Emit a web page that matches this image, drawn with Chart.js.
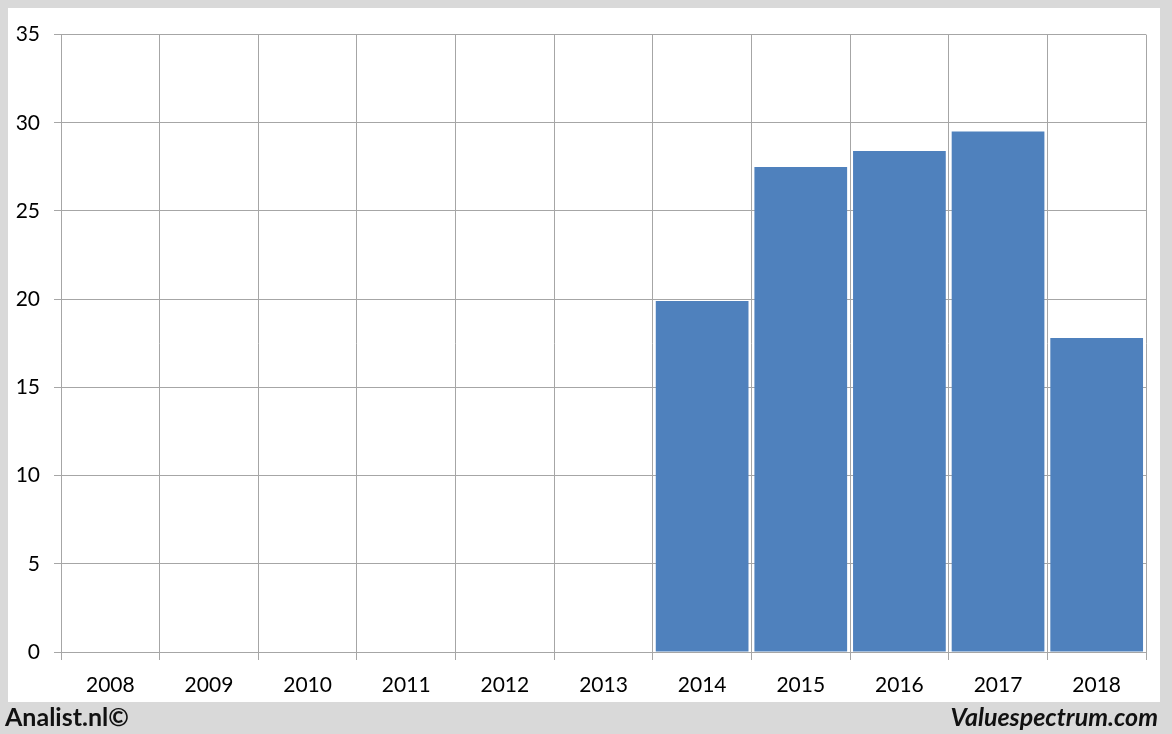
<!DOCTYPE html>
<html>
<head>
<meta charset="utf-8">
<script src="https://cdn.jsdelivr.net/npm/chart.js@4.4.0/dist/chart.umd.min.js"></script>
<style>
    html, body { margin: 0; padding: 0; }
    body { width: 1172px; height: 734px; background: #d9d9d9; position: relative; overflow: hidden; font-family: Lato, "Open Sans", sans-serif; }
    .panel { position: absolute; left: 8px; top: 8px; width: 1152px; height: 694px; background: #fff; }
    .footer-left { position: absolute; left: 5px; top: 701px; font-size: 25px; font-weight: bold; color: #111; }
    .footer-right { position: absolute; right: 14px; top: 701px; font-size: 25px; font-weight: bold; font-style: italic; color: #111; }
</style>
</head>
<body>
<div class="panel"><canvas id="chart" width="1152" height="694"></canvas></div>
<div class="footer-left">Analist.nl©</div>
<div class="footer-right">Valuespectrum.com</div>
<script>
const years = ['2008', '2009', '2010', '2011', '2012', '2013', '2014', '2015', '2016', '2017', '2018'];
const values = [null, null, null, null, null, null, 19.9, 27.5, 28.4, 29.5, 17.8];
const yTicks = [0, 5, 10, 15, 20, 25, 30, 35];

const gridColor = '#a6a6a6';

const ctx = document.getElementById('chart').getContext('2d');
new Chart(ctx, {
    type: 'bar',
    data: {
        labels: years,
        datasets: [{
            data: values,
            backgroundColor: '#4f81bd',
            barPercentage: 0.94,
            categoryPercentage: 1.0
        }]
    },
    options: {
        responsive: false,
        animation: false,
        layout: { padding: { top: 26, right: 14, left: 0, bottom: 0 } },
        plugins: { legend: { display: false }, tooltip: { enabled: false } },
        scales: {
            x: {
                grid: { color: gridColor, offset: true, tickLength: 8 },
                border: { color: gridColor },
                ticks: { color: '#000', font: { family: 'Lato', size: 21 }, padding: 13, maxRotation: 0 },
                afterFit: (scale) => { scale.height = 50; }
            },
            y: {
                min: 0,
                max: 35,
                afterBuildTicks: (scale) => { scale.ticks = yTicks.map(v => ({ value: v })); },
                grid: { color: gridColor, tickLength: 7 },
                border: { color: gridColor },
                ticks: { color: '#000', font: { family: 'Lato', size: 21 }, padding: 14 },
                afterFit: (scale) => { scale.width = 53; }
            }
        }
    }
});
</script>
</body>
</html>
